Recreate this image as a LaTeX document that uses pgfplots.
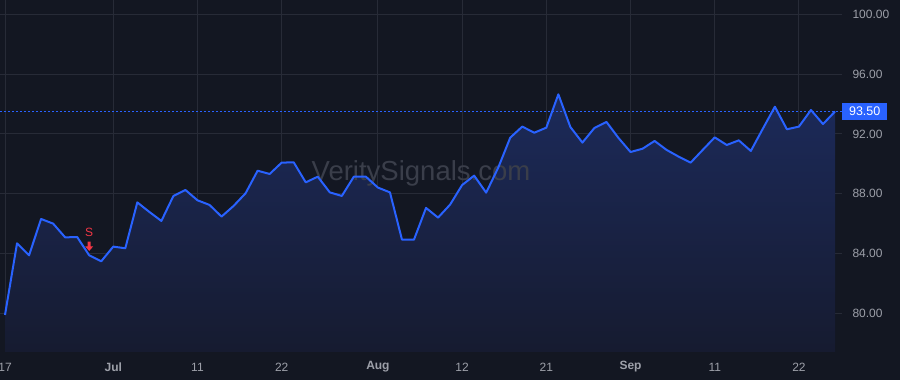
\documentclass[border=0pt]{standalone}
\usepackage{pgfplots}
\pgfplotsset{compat=1.18}
\usepackage{pgfplotstable}
\usepackage{fontspec}
\setmainfont{Liberation Sans}
\definecolor{bgcol}{HTML}{131722}
\definecolor{gridcol}{HTML}{272B37}
\definecolor{linecol}{HTML}{2962FF}
\definecolor{txtcol}{HTML}{9DA0A9}
\definecolor{filltop}{HTML}{1C2A5A}
\definecolor{fillbot}{HTML}{161B30}
\definecolor{wmcol}{HTML}{3A3E4A}
\definecolor{sellred}{HTML}{F23645}
\pgfdeclareplotmark{sellarrow}{%
  \pgfpathmoveto{\pgfpoint{0pt}{4.3pt}}%
  \pgfpathlineto{\pgfpoint{4pt}{9pt}}%
  \pgfpathlineto{\pgfpoint{1.5pt}{9pt}}%
  \pgfpathlineto{\pgfpoint{1.5pt}{13.6pt}}%
  \pgfpathlineto{\pgfpoint{-1.5pt}{13.6pt}}%
  \pgfpathlineto{\pgfpoint{-1.5pt}{9pt}}%
  \pgfpathlineto{\pgfpoint{-4pt}{9pt}}%
  \pgfpathclose
  \pgfusepathqfill}
\pgfplotstableread{
i v
0 79.89
1 84.68
2 83.88
3 86.31
4 86.00
5 85.08
6 85.10
7 83.88
8 83.48
9 84.46
10 84.35
11 87.42
12 86.78
13 86.18
14 87.85
15 88.25
16 87.56
17 87.25
18 86.47
19 87.18
20 88.03
21 89.54
22 89.32
23 90.08
24 90.10
25 88.76
26 89.14
27 88.09
28 87.85
29 89.14
30 89.14
31 88.41
32 88.09
33 84.93
34 84.93
35 87.05
36 86.40
37 87.27
38 88.58
39 89.21
40 88.07
41 89.74
42 91.75
43 92.49
44 92.08
45 92.42
46 94.65
47 92.46
48 91.42
49 92.40
50 92.80
51 91.73
52 90.79
53 91.01
54 91.53
55 90.93
56 90.48
57 90.08
58 90.93
59 91.77
60 91.26
61 91.57
62 90.86
63 92.35
64 93.82
65 92.31
66 92.49
67 93.60
68 92.66
69 93.50
}\pricedata
\pgfplotstableread{
i v
0 77.41
0 79.89
1 84.68
2 83.88
3 86.31
4 86.00
5 85.08
6 85.10
7 83.88
8 83.48
9 84.46
10 84.35
11 87.42
12 86.78
13 86.18
14 87.85
15 88.25
16 87.56
17 87.25
18 86.47
19 87.18
20 88.03
21 89.54
22 89.32
23 90.08
24 90.10
25 88.76
26 89.14
27 88.09
28 87.85
29 89.14
30 89.14
31 88.41
32 88.09
33 84.93
34 84.93
35 87.05
36 86.40
37 87.27
38 88.58
39 89.21
40 88.07
41 89.74
42 91.75
43 92.49
44 92.08
45 92.42
46 94.65
47 92.46
48 91.42
49 92.40
50 92.80
51 91.73
52 90.79
53 91.01
54 91.53
55 90.93
56 90.48
57 90.08
58 90.93
59 91.77
60 91.26
61 91.57
62 90.86
63 92.35
64 93.82
65 92.31
66 92.49
67 93.60
68 92.66
69 93.50
69 77.41
}\filldata
\begin{document}
\begin{tikzpicture}
\useasboundingbox (0,0) rectangle (900pt,380pt);
\fill[bgcol] (0,0) rectangle (900pt,380pt);
\begin{axis}[
  at={(0pt,28pt)}, anchor=south west,
  scale only axis, width=842pt, height=352pt,
  xmin=-0.416, xmax=69.58, ymin=77.41, ymax=100.96,
  axis line style={draw=none},
  major tick length=0pt,
  grid=major, grid style={gridcol, line width=0.9pt},
  xtick={0,9,16,23,31,38,45,52,59,66},
  xticklabels={17,\textbf{Jul},11,22,\textbf{Aug},12,21,\textbf{Sep},11,22},
  ytick={80,84,88,92,96,100},
  yticklabels={80.00,84.00,88.00,92.00,96.00,100.00},
  yticklabel pos=right,
  yticklabel style={anchor=west, xshift=7pt, font=\fontsize{12}{13}\selectfont, text=txtcol},
  xticklabel style={anchor=center, yshift=-15pt, font=\fontsize{12}{13}\selectfont, text=txtcol},
  /pgf/number format/assume math mode=true,
  clip=false,
]
\addplot[top color=filltop, bottom color=fillbot, draw=none] table[x=i, y=v] {\filldata} -- cycle;
\node[text=wmcol, font=\fontsize{27.5}{30}\selectfont] at (rel axis cs:0.5,0.508) {VeritySignals.com};
\addplot[linecol, line width=1pt, dash pattern=on 2pt off 2pt] coordinates {(-0.416,93.5) (69.58,93.5)};
\addplot[linecol, line width=2pt, line join=round] table[x=i, y=v] {\pricedata};
\addplot[only marks, mark=sellarrow, color=sellred, mark options={fill=sellred, draw=none}]
  coordinates {(7,83.88)};
\node[text=sellred, font=\fontsize{12}{13}\selectfont, yshift=22.5pt] at (axis cs:7,83.88) {S};
\node[fill=linecol, text=white, anchor=west, minimum width=45pt, minimum height=16.5pt, inner sep=0pt, font=\fontsize{12.5}{13}\selectfont] at (axis cs:69.58,93.5) {93.50};
\end{axis}
\end{tikzpicture}
\end{document}
